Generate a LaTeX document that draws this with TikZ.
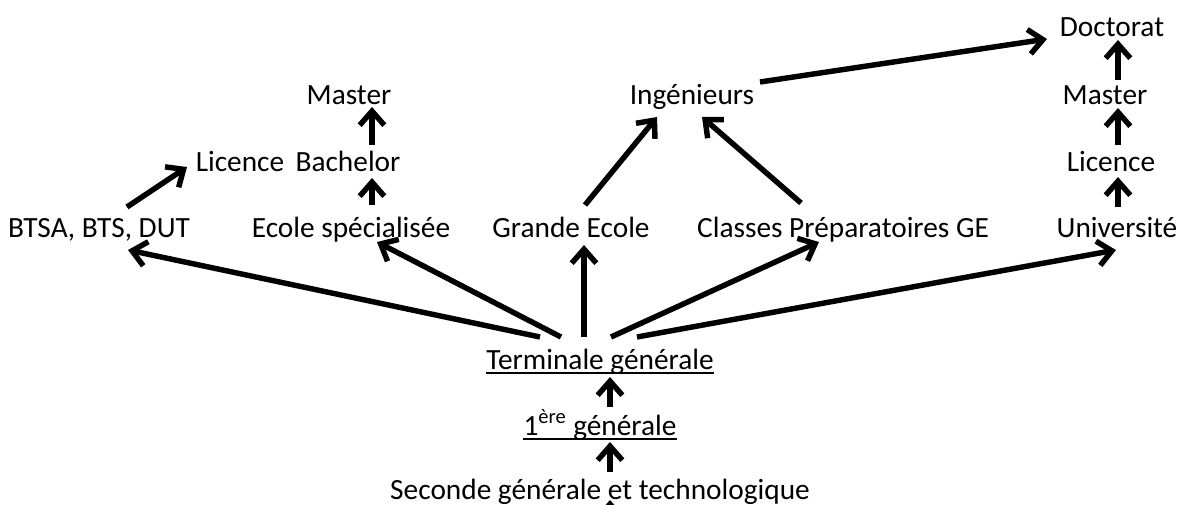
\documentclass[tikz,border=0pt]{standalone}
\usepackage{fontspec}
\setmainfont{Carlito}
\usetikzlibrary{arrows.meta}
\begin{document}
\begin{tikzpicture}[x=0.02cm,y=-0.02cm,
  lbl/.style={anchor=base,inner sep=0pt,font=\fontsize{16.7}{19}\selectfont},
  arr/.style={line width=3.1pt,-{Straight Barb[length=8pt,width=14pt]}},
  ul/.style={line width=1.1pt}]
\useasboundingbox (0,0) rectangle (1179,504);
% nodes
\node[lbl] (doct)    at (1112,36)  {Doctorat};
\node[lbl] (mastR)   at (1105,104) {Master};
\node[lbl] (licR)    at (1111,171) {Licence};
\node[lbl] (univ)    at (1117,237) {Université};
\node[lbl] (ing)     at (692,104)  {Ingénieurs};
\node[lbl] (mastL)   at (349,104)  {Master};
\node[lbl] (licL)    at (240,171)  {Licence};
\node[lbl] (bach)    at (348,171)  {Bachelor};
\node[lbl] (btsa)    at (99,237)   {BTSA, BTS, DUT};
\node[lbl] (ecole)   at (351,237)  {Ecole spécialisée};
\node[lbl] (grande)  at (571,237)  {Grande Ecole};
\node[lbl] (classes) at (843,237)  {Classes Préparatoires GE};
\node[lbl] (term)    at (600,369)  {Terminale générale};
\node[lbl] (un)      at (600,435)  {1\textsuperscript{ère} générale};
\node[lbl] (sec)     at (600,499)  {Seconde générale et technologique};
\coordinate (below) at (610,540);
% underlines
\draw[ul] ([shift={(0,4)}]term.base west) -- ([shift={(0,4)}]term.base east);
\draw[ul] ([shift={(0,4)}]un.base west) -- ([shift={(0,4)}]un.base east);
% arrows from Terminale
\draw[arr] ([shift={(-60,-32)}]term.base) -- ([shift={(29,13)}]btsa.base);
\draw[arr] ([shift={(-39,-32)}]term.base) -- ([shift={(26,5)}]ecole.base);
\draw[arr] ([shift={(-16,-32)}]term.base) -- ([shift={(13,8)}]grande.base);
\draw[arr] ([shift={(11,-32)}]term.base) -- ([shift={(-24,5)}]classes.base);
\draw[arr] ([shift={(37,-32)}]term.base) -- ([shift={(-1,13)}]univ.base);
% upper arrows
\draw[arr] ([shift={(28,-30)}]btsa.base) -- ([shift={(-53,-4)}]licL.base);
\draw[arr] ([shift={(21,-32)}]ecole.base) -- ([shift={(24,7)}]bach.base);
\draw[arr] ([shift={(24,-26)}]bach.base) -- ([shift={(23,3)}]mastL.base);
\draw[arr] ([shift={(14,-32)}]grande.base) -- ([shift={(-35,13)}]ing.base);
\draw[arr] ([shift={(-42,-34)}]classes.base) -- ([shift={(10,13)}]ing.base);
\draw[arr] ([shift={(68,-22)}]ing.base) -- ([shift={(-65,3)}]doct.base);
\draw[arr] ([shift={(13,-24)}]mastR.base) -- ([shift={(6,4)}]doct.base);
\draw[arr] ([shift={(7,-26)}]licR.base) -- ([shift={(13,4)}]mastR.base);
\draw[arr] ([shift={(1,-30)}]univ.base) -- ([shift={(7,6)}]licR.base);
% lower arrows
\draw[arr] ([shift={(10,-28)}]un.base) -- ([shift={(10,8)}]term.base);
\draw[arr] ([shift={(10,-27)}]sec.base) -- ([shift={(10,7)}]un.base);
\draw[arr] (below) -- ([shift={(10,1)}]sec.base);
\end{tikzpicture}
\end{document}
